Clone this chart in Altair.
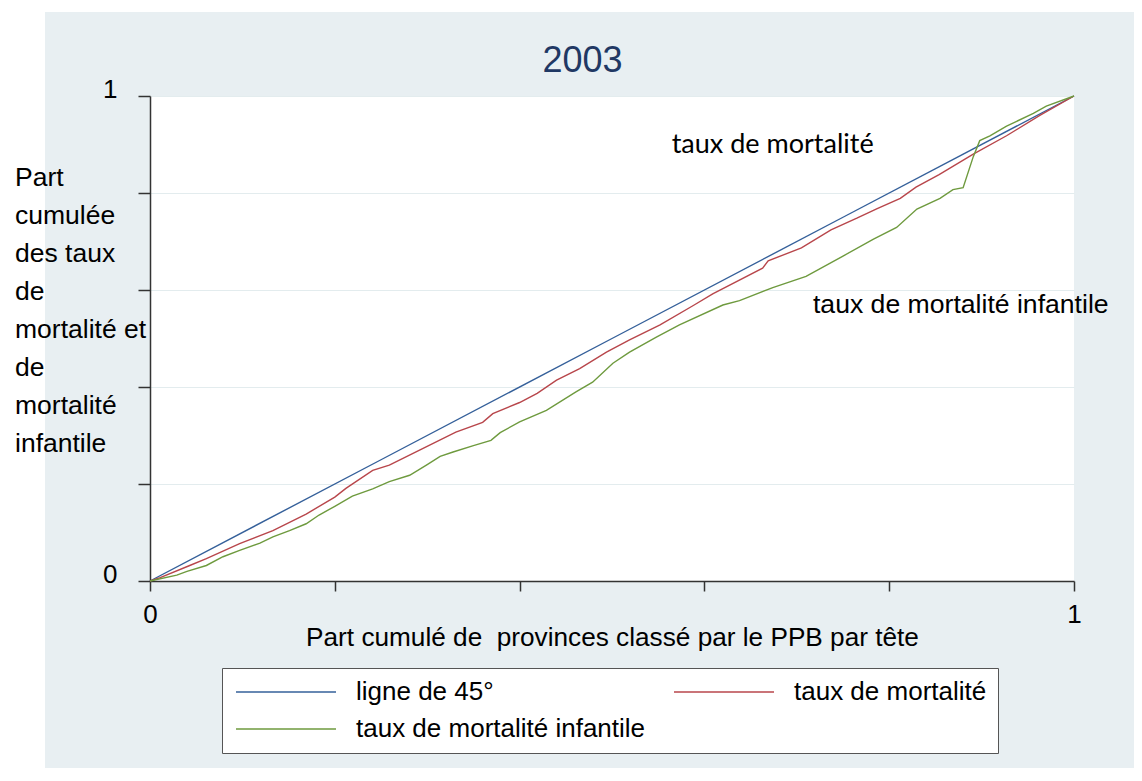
import altair as alt
import pandas as pd

# ---------------- data ----------------
series_names = ["ligne de 45°", "taux de mortalité", "taux de mortalité infantile"]
series_colors = ["#35609a", "#b8464b", "#6e9a3e"]

x_diag = [0, 0.25, 0.5, 0.75, 1]
y_diag = [0, 0.25, 0.5, 0.75, 1]

x_red = [0, 0.011, 0.043, 0.061, 0.097, 0.133, 0.169, 0.2, 0.212, 0.241, 0.259, 0.295,
         0.331, 0.360, 0.371, 0.4, 0.419, 0.440, 0.465, 0.494, 0.519, 0.552, 0.588, 0.609,
         0.663, 0.669, 0.705, 0.737, 0.765, 0.787, 0.812, 0.829, 0.854, 0.891, 0.927, 0.963, 1]
y_red = [0, 0.007, 0.032, 0.046, 0.077, 0.104, 0.138, 0.173, 0.191, 0.228, 0.239, 0.273,
         0.307, 0.327, 0.345, 0.368, 0.387, 0.414, 0.438, 0.472, 0.497, 0.528, 0.568, 0.592,
         0.645, 0.660, 0.687, 0.724, 0.748, 0.768, 0.789, 0.812, 0.838, 0.880, 0.918, 0.960, 1]

x_green = [0, 0.029, 0.04, 0.061, 0.079, 0.097, 0.119, 0.133, 0.151, 0.169, 0.183, 0.2,
           0.219, 0.241, 0.259, 0.281, 0.30, 0.314, 0.328, 0.35, 0.369, 0.379, 0.4, 0.429,
           0.461, 0.479, 0.501, 0.519, 0.548, 0.573, 0.620, 0.638, 0.674, 0.710, 0.750,
           0.783, 0.808, 0.830, 0.855, 0.869, 0.880, 0.891, 0.898, 0.909, 0.927, 0.956, 0.970, 1]
y_green = [0, 0.012, 0.02, 0.032, 0.05, 0.063, 0.078, 0.091, 0.104, 0.118, 0.136, 0.154,
           0.175, 0.19, 0.205, 0.218, 0.24, 0.257, 0.266, 0.279, 0.29, 0.306, 0.328, 0.352,
           0.39, 0.41, 0.449, 0.472, 0.503, 0.528, 0.569, 0.578, 0.605, 0.628, 0.67,
           0.705, 0.729, 0.767, 0.789, 0.807, 0.811, 0.875, 0.908, 0.918, 0.938, 0.964, 0.979, 1]

annot_text = ["taux de mortalité", "taux de mortalité infantile"]
annot_x = [0.5646, 0.7175]
annot_y = [0.882, 0.552]

tick_values = [0, 0.2, 0.4, 0.6, 0.8, 1]
chart_title = "2003"
x_title = "Part cumulé de\u00a0 provinces classé par le PPB par tête"
y_title_lines = ["Part", "cumulée", "des taux", "de", "mortalité et", "de", "mortalité", "infantile"]

# ---------------- tables ----------------
rows = []
for name, xs, ys in zip(series_names, [x_diag, x_red, x_green], [y_diag, y_red, y_green]):
    rows += [{"x": a, "y": b, "serie": name} for a, b in zip(xs, ys)]
df = pd.DataFrame(rows)
ann1 = pd.DataFrame({"x": annot_x[:1], "y": annot_y[:1], "t": annot_text[:1]})
ann2 = pd.DataFrame({"x": annot_x[1:], "y": annot_y[1:], "t": annot_text[1:]})
dummy = pd.DataFrame({"a": [0]})

W, H = 924, 485
PAD_L, PAD_T, PAD_R, PAD_B = 142, 88, 60, 187
FONT = "Liberation Sans"
BG = "#e8eff2"

xs = alt.Scale(domain=[0, 1], nice=False, zero=False)
ys = alt.Scale(domain=[0, 1], nice=False, zero=False)

x_axis = alt.Axis(
    values=tick_values,
    labelExpr="datum.value == 0 ? '0' : (datum.value == 1 ? '1' : '')",
    labelFlush=False, labelOverlap=False, grid=False,
    tickSize=10, tickWidth=1.5, tickColor="#333333",
    domainColor="#333333", domainWidth=1.5,
    labelFont=FONT, labelFontSize=26, labelColor="black", labelPadding=10,
    title=x_title, titleFont=FONT, titleFontSize=26.2, titleFontWeight="normal",
    titleColor="black", titleBaseline="alphabetic", titleY=64,
)
y_axis = alt.Axis(
    values=tick_values,
    labelExpr="datum.value == 0 ? '0' : (datum.value == 1 ? '1' : '')",
    labelFlush=False, labelOverlap=False, grid=True,
    gridColor="#e3ecee", gridWidth=1,
    tickSize=12, tickWidth=1.5, tickColor="#333333",
    domainColor="#333333", domainWidth=1.5,
    labelFont=FONT, labelFontSize=26, labelColor="black", labelPadding=21,
    labelOffset=-7, title=None,
)

legend = alt.Legend(
    title=None, orient="none", legendX=72, legendY=572, columns=2,
    direction="horizontal",
    fillColor="white", strokeColor="#555555", padding=11,
    symbolType="M-1,0H9", symbolSize=400, symbolStrokeWidth=1.5,
    labelFont=FONT, labelFontSize=26, labelColor="black", labelLimit=600,
    labelOffset=97, columnPadding=25, rowPadding=11,
)

strip_left = alt.Chart(dummy).mark_rect(color="white").encode(
    x=alt.value(-PAD_L), x2=alt.value(-105), y=alt.value(-PAD_T), y2=alt.value(H + PAD_B)
)
strip_top = alt.Chart(dummy).mark_rect(color="white").encode(
    x=alt.value(-PAD_L), x2=alt.value(W + PAD_R), y=alt.value(-PAD_T), y2=alt.value(-84)
)

lines = alt.Chart(df).mark_line(strokeWidth=1.4).encode(
    x=alt.X("x:Q", scale=xs, axis=x_axis),
    y=alt.Y("y:Q", scale=ys, axis=y_axis),
    color=alt.Color("serie:N", scale=alt.Scale(domain=series_names, range=series_colors),
                    legend=legend),
)

a1 = alt.Chart(ann1).mark_text(font="Lato", fontSize=27, align="left",
                                baseline="alphabetic", color="black").encode(
    x=alt.X("x:Q", scale=xs), y=alt.Y("y:Q", scale=ys), text="t:N")
a2 = alt.Chart(ann2).mark_text(font=FONT, fontSize=26.6, align="left",
                                baseline="alphabetic", color="black").encode(
    x=alt.X("x:Q", scale=xs), y=alt.Y("y:Q", scale=ys), text="t:N")

ytitle = alt.Chart(dummy).mark_text(font=FONT, fontSize=26.5, align="left",
                                    baseline="alphabetic", lineHeight=38,
                                    color="black").encode(
    x=alt.value(-135), y=alt.value(90), text=alt.value(y_title_lines))

title = alt.Chart(dummy).mark_text(font=FONT, fontSize=36, align="center",
                                   baseline="alphabetic", color="#1f3864").encode(
    x=alt.value(432.5), y=alt.value(-24), text=alt.value(chart_title))

chart = alt.layer(strip_left, strip_top, lines, a1, a2, ytitle, title).properties(
    width=W, height=H,
    autosize=alt.AutoSizeParams(type="none"),
    padding={"left": PAD_L, "top": PAD_T, "right": PAD_R, "bottom": PAD_B},
).configure(background=BG).configure_view(fill="white", stroke=None)

chart.save("out.html", embed_options={"renderer": "svg", "actions": False})
